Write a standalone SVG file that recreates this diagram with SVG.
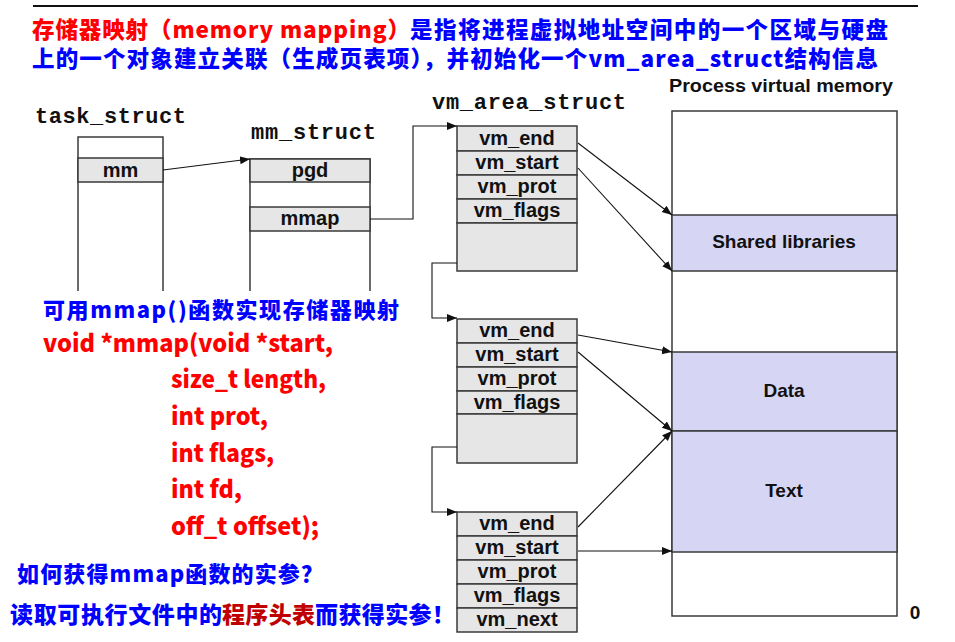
<svg xmlns="http://www.w3.org/2000/svg" width="955" height="642" viewBox="0 0 955 642">
<style>
.cjk{font-family:"Noto Sans CJK SC","Liberation Sans",sans-serif;font-weight:900}
.red{fill:#ff0000}
.blue{fill:#0000ff}
.dred{fill:#c00000}
.mono{font-family:"Liberation Mono","Courier New",monospace;font-weight:bold;font-size:22px;fill:#111}
.lbl{font-family:"Liberation Sans",Arial,sans-serif;font-weight:bold;font-size:20px;fill:#111;text-anchor:middle}
.mem{font-family:"Liberation Sans",Arial,sans-serif;font-weight:bold;font-size:19px;fill:#111;text-anchor:middle}
.row{fill:#e6e6e6;stroke:#3a3a3a;stroke-width:1.5}
.seg{fill:#d6d6f4;stroke:#3a3a3a;stroke-width:1.5}
.box{fill:none;stroke:#3a3a3a;stroke-width:1.5}
.con{fill:none;stroke:#111;stroke-width:1.1}
</style>
<defs>
<marker id="ah" markerUnits="userSpaceOnUse" markerWidth="12" markerHeight="10" refX="10" refY="4" orient="auto">
<path d="M0,0 L10,4 L0,8 Z" fill="#111"/>
</marker>
</defs>

<line x1="33" y1="6" x2="918" y2="6" stroke="#111" stroke-width="2"/>

<g id="title">
<text class="cjk red" x="32" y="38" font-size="22.5" textLength="378" lengthAdjust="spacing">存储器映射（memory mapping）</text>
<text class="cjk blue" x="410" y="38" font-size="22.5" textLength="478" lengthAdjust="spacing">是指将进程虚拟地址空间中的一个区域与硬盘</text>
<text class="cjk blue" x="32" y="67" font-size="22.5" textLength="846" lengthAdjust="spacing">上的一个对象建立关联（生成页表项），并初始化一个vm_area_struct结构信息</text>
</g>

<g id="task_struct">
<text class="mono" x="35" y="123" textLength="151" lengthAdjust="spacing">task_struct</text>
<path class="box" d="M78,291 V137 H163 V291"/>
<rect class="row" x="78" y="158" width="85" height="24"/>
<text class="lbl" x="120.5" y="177">mm</text>
</g>

<g id="mm_struct">
<text class="mono" x="251" y="139" textLength="125" lengthAdjust="spacing">mm_struct</text>
<path class="box" d="M250,291 V159 H370 V291"/>
<rect class="row" x="250" y="159" width="120" height="23"/>
<text class="lbl" x="310" y="177">pgd</text>
<rect class="row" x="250" y="207" width="120" height="24"/>
<text class="lbl" x="310" y="225">mmap</text>
</g>

<g id="vm_area_1">
<text class="mono" x="432" y="109" textLength="194" lengthAdjust="spacing">vm_area_struct</text>
<rect class="row" x="457" y="126" width="120" height="25"/>
<rect class="row" x="457" y="151" width="120" height="24"/>
<rect class="row" x="457" y="175" width="120" height="24"/>
<rect class="row" x="457" y="199" width="120" height="24"/>
<rect class="row" x="457" y="223" width="120" height="48"/>
<text class="lbl" x="517" y="145">vm_end</text>
<text class="lbl" x="517" y="169">vm_start</text>
<text class="lbl" x="517" y="193">vm_prot</text>
<text class="lbl" x="517" y="217">vm_flags</text>
</g>

<g id="vm_area_2">
<rect class="row" x="457" y="319" width="120" height="24"/>
<rect class="row" x="457" y="343" width="120" height="24"/>
<rect class="row" x="457" y="367" width="120" height="24"/>
<rect class="row" x="457" y="391" width="120" height="23"/>
<rect class="row" x="457" y="414" width="120" height="49"/>
<text class="lbl" x="517" y="337">vm_end</text>
<text class="lbl" x="517" y="361">vm_start</text>
<text class="lbl" x="517" y="385">vm_prot</text>
<text class="lbl" x="517" y="409">vm_flags</text>
</g>

<g id="vm_area_3">
<rect class="row" x="457" y="512" width="120" height="24"/>
<rect class="row" x="457" y="536" width="120" height="24"/>
<rect class="row" x="457" y="560" width="120" height="24"/>
<rect class="row" x="457" y="584" width="120" height="24"/>
<rect class="row" x="457" y="608" width="120" height="24"/>
<text class="lbl" x="517" y="530">vm_end</text>
<text class="lbl" x="517" y="554">vm_start</text>
<text class="lbl" x="517" y="578">vm_prot</text>
<text class="lbl" x="517" y="602">vm_flags</text>
<text class="lbl" x="517" y="626">vm_next</text>
</g>

<g id="process_memory">
<text class="mem" x="669" y="92" style="text-anchor:start" textLength="224" lengthAdjust="spacingAndGlyphs">Process virtual memory</text>
<rect class="box" x="672" y="111" width="225" height="505" fill="#fff"/>
<rect class="seg" x="672" y="215" width="225" height="56"/>
<rect class="seg" x="672" y="352" width="225" height="79"/>
<rect class="seg" x="672" y="431" width="225" height="121"/>
<text class="mem" x="784" y="248">Shared libraries</text>
<text class="mem" x="784" y="397">Data</text>
<text class="mem" x="784" y="497">Text</text>
<text class="mem" x="915" y="619" font-size="16">0</text>
</g>

<g id="connectors">
<path class="con" d="M163,170 L250,159" marker-end="url(#ah)"/>
<path class="con" d="M370,219 H413 V126 H457" marker-end="url(#ah)"/>
<path class="con" d="M578,143 L672,215" marker-end="url(#ah)"/>
<path class="con" d="M578,168 L672,271" marker-end="url(#ah)"/>
<path class="con" d="M457,263 H432 V318 H457" marker-end="url(#ah)"/>
<path class="con" d="M578,335 L672,352" marker-end="url(#ah)"/>
<path class="con" d="M578,352 L672,431" marker-end="url(#ah)"/>
<path class="con" d="M457,447 H432 V512 H457" marker-end="url(#ah)"/>
<path class="con" d="M578,527 L672,431" marker-end="url(#ah)"/>
<path class="con" d="M578,551 H672" marker-end="url(#ah)"/>
</g>

<g id="mmap_text">
<rect x="30" y="293" width="380" height="30" fill="#fff"/>
<text class="cjk blue" x="43" y="318" font-size="22" textLength="356" lengthAdjust="spacing">可用mmap()函数实现存储器映射</text>
<text class="cjk red" x="43" y="352" font-size="24" textLength="290" lengthAdjust="spacingAndGlyphs">void *mmap(void *start,</text>
<text class="cjk red" x="171" y="388" font-size="24" textLength="155" lengthAdjust="spacingAndGlyphs">size_t length,</text>
<text class="cjk red" x="171" y="425" font-size="24" textLength="97" lengthAdjust="spacingAndGlyphs">int prot,</text>
<text class="cjk red" x="171" y="462" font-size="24" textLength="103" lengthAdjust="spacingAndGlyphs">int flags,</text>
<text class="cjk red" x="171" y="498" font-size="24" textLength="71" lengthAdjust="spacingAndGlyphs">int fd,</text>
<text class="cjk red" x="171" y="535" font-size="24" textLength="148" lengthAdjust="spacingAndGlyphs">off_t offset);</text>
<text class="cjk blue" x="17" y="582" font-size="22" textLength="306" lengthAdjust="spacing">如何获得mmap函数的实参？</text>
<text class="cjk blue" x="10" y="623" font-size="23" textLength="212" lengthAdjust="spacing">读取可执行文件中的</text>
<text class="cjk dred" x="222" y="623" font-size="23" textLength="93" lengthAdjust="spacing">程序头表</text>
<text class="cjk blue" x="315" y="623" font-size="23" textLength="140" lengthAdjust="spacing">而获得实参！</text>
</g>
</svg>
